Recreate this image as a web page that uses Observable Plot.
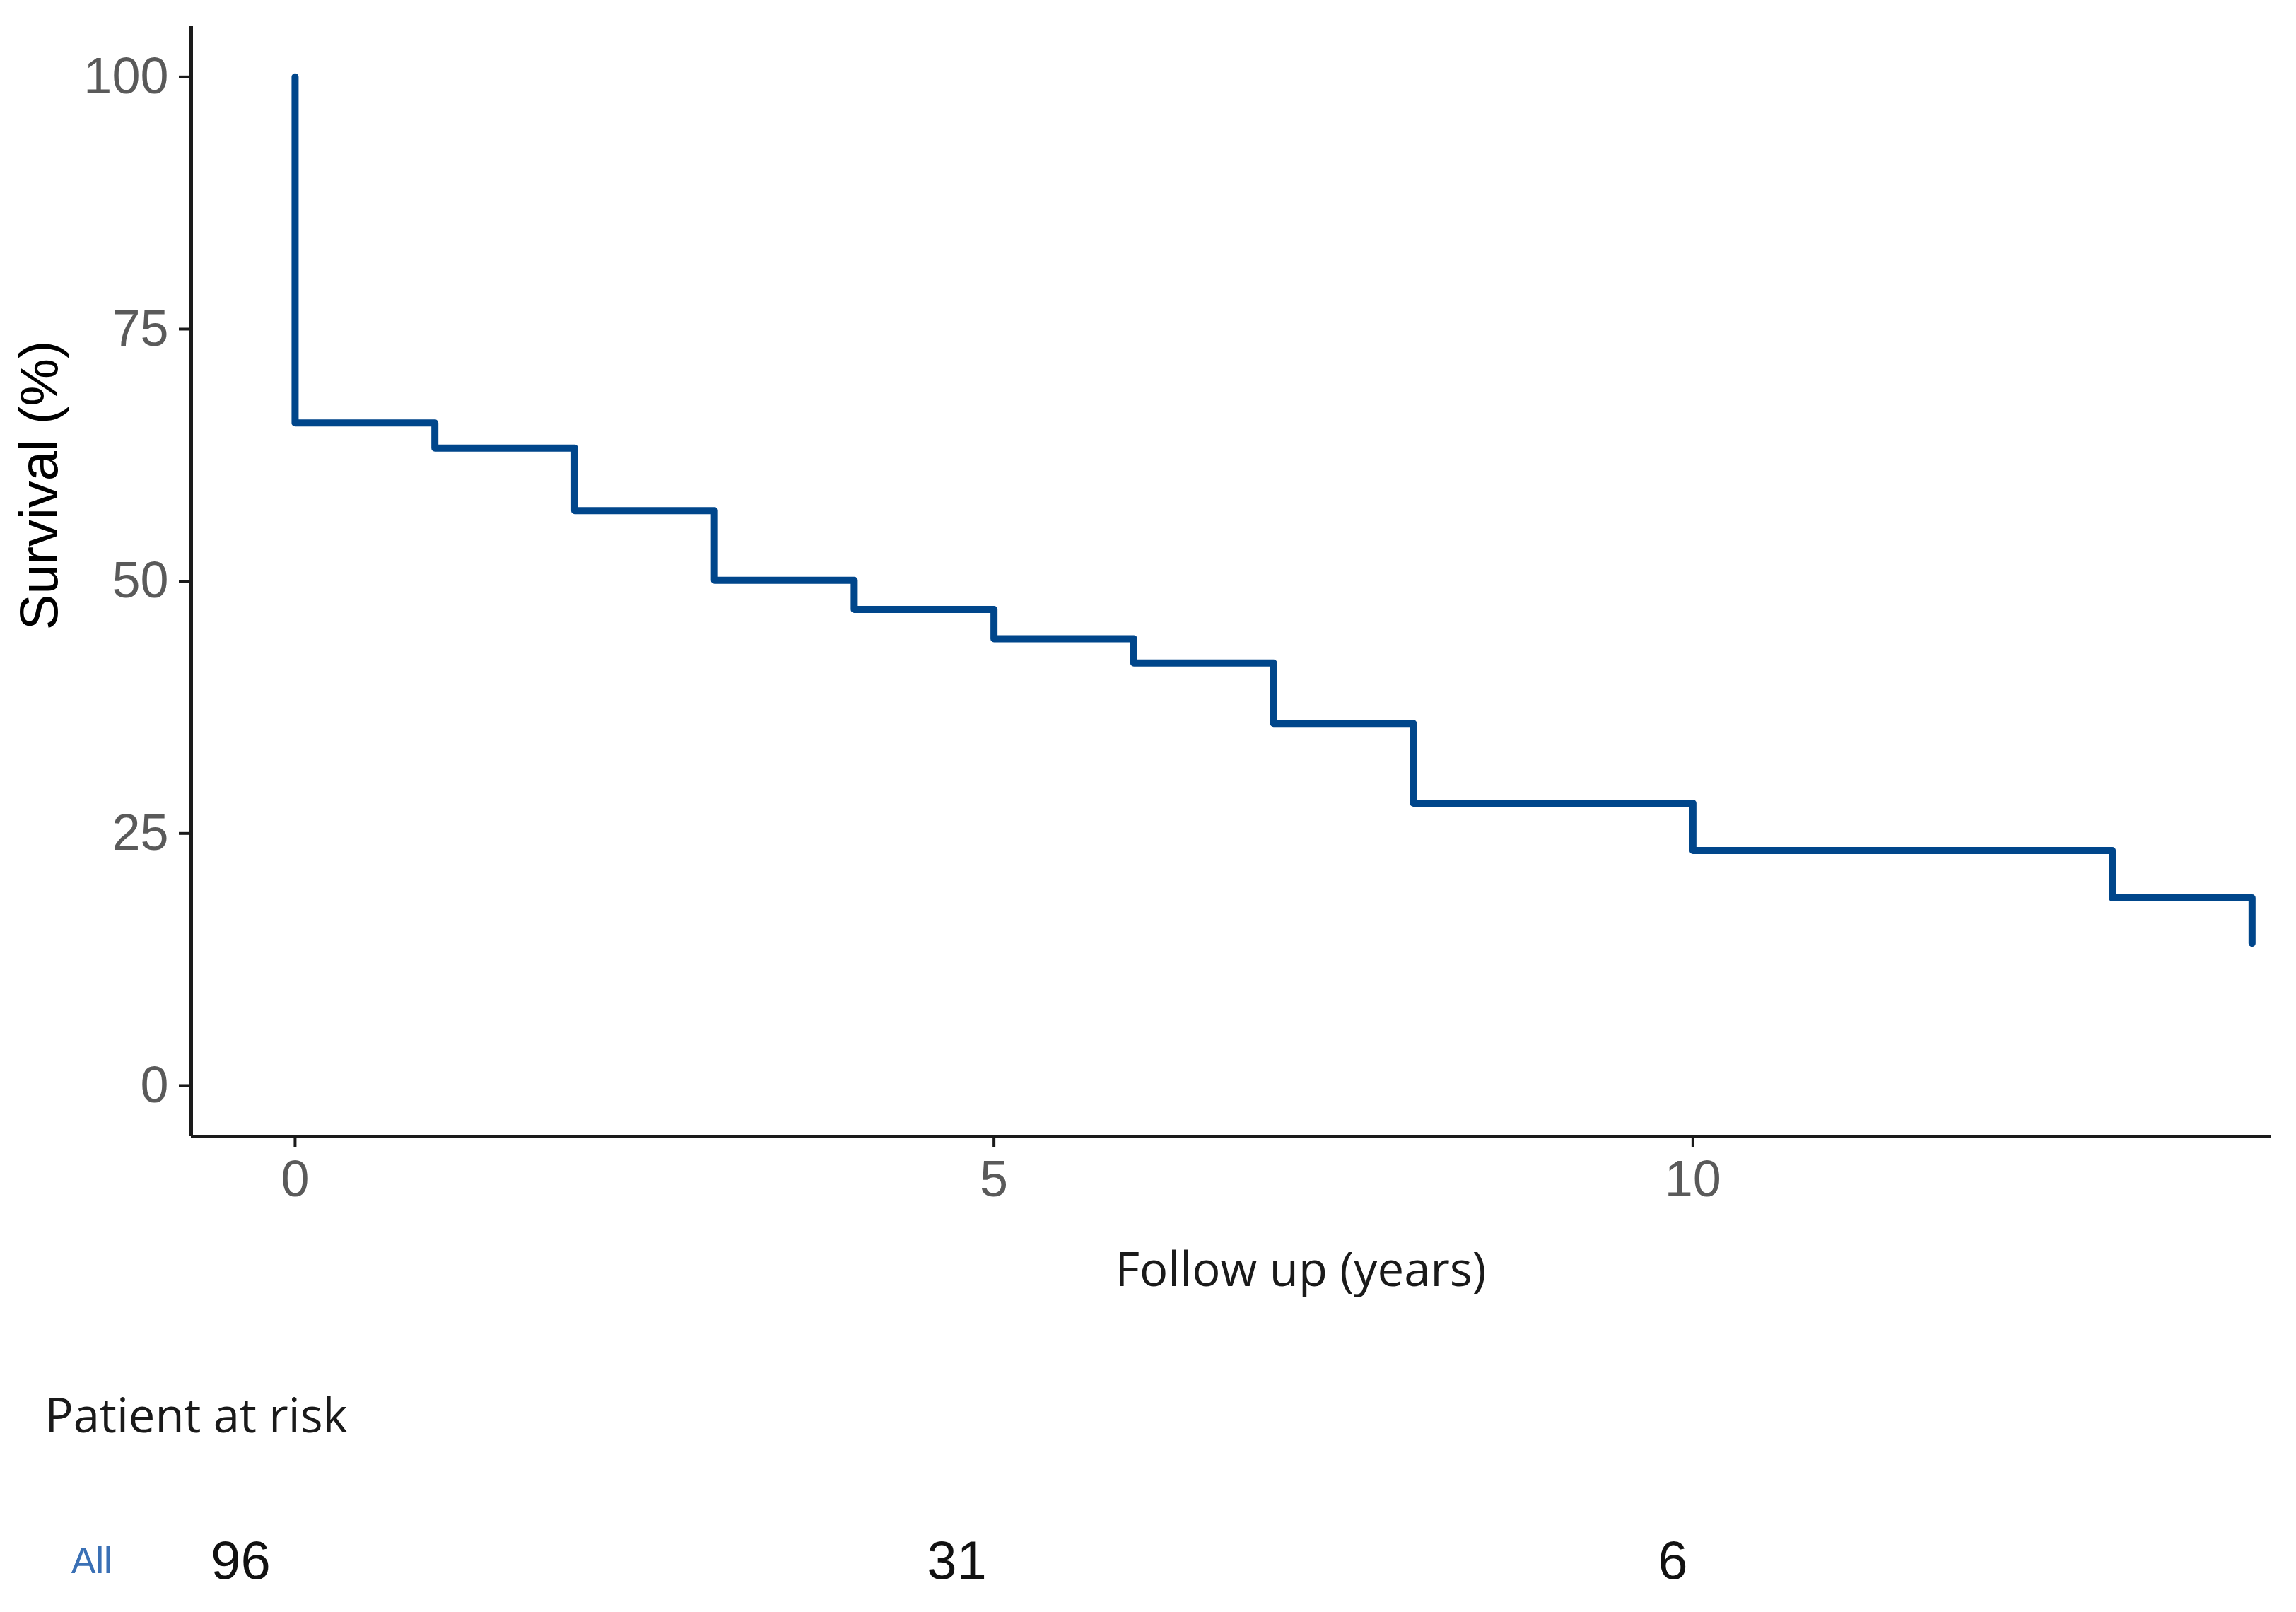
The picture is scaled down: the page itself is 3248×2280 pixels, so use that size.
<!DOCTYPE html>
<html>
<head>
<meta charset="utf-8">
<script src="https://cdn.jsdelivr.net/npm/d3@7"></script>
<script src="https://cdn.jsdelivr.net/npm/@observablehq/plot@0.6"></script>
<style>
  html, body { margin: 0; padding: 0; background: #ffffff; }
  #chart svg { display: block; }
</style>
</head>
<body>
<div id="chart"></div>
<script>
// Kaplan–Meier step points (years, survival %)
const times    = [0, 0, 1, 2, 3, 4, 5, 6, 7, 8, 10, 13, 14];
const survival = [100, 65.7, 63.2, 57.0, 50.1, 47.2, 44.3, 41.9, 35.9, 28.0, 23.3, 18.6, 14.1];

const xTicks = [0, 5, 10];
const yTicks = [0, 25, 50, 75, 100];
const xDomain = [-0.743, 14.14];
const yDomain = [-5.05, 105];

// Patients at risk table
const riskGroup  = "All";
const riskTimes  = [0, 5, 10];
const riskCounts = [96, 31, 6];

const xTitle = "Follow up (years)";
const yTitle = "Survival (%)";
const riskTitle = "Patient at risk";

const curve = times.map((t, i) => ({time: t, surv: survival[i]}));
const risk = riskTimes.map((t, i) => ({time: t, n: riskCounts[i], group: riskGroup}));

const W = 3248;
const sans = "Liberation Sans, Arial, sans-serif";
const ui = "Open Sans, Noto Sans, sans-serif";

const main = Plot.plot({
  width: W,
  height: 1880,
  marginLeft: 270,
  marginRight: 35,
  marginTop: 37,
  marginBottom: 273,
  style: {fontFamily: sans, background: "#ffffff"},
  x: {domain: xDomain},
  y: {domain: yDomain},
  marks: [
    Plot.ruleX([xDomain[0]], {stroke: "#1a1a1a", strokeWidth: 5}),
    Plot.ruleY([yDomain[0]], {stroke: "#1a1a1a", strokeWidth: 5}),
    Plot.axisY(yTicks, {tickSize: 17, tickPadding: 15, fontSize: 72, fill: "#5a5a5a", stroke: "#1a1a1a", strokeWidth: 4, tickFormat: d => String(d), label: null}),
    Plot.axisX(xTicks, {tickSize: 15, tickPadding: 18, fontSize: 72, fill: "#5a5a5a", stroke: "#1a1a1a", strokeWidth: 4, tickFormat: d => String(d), label: null}),
    Plot.line(curve, {x: "time", y: "surv", curve: "step-after", stroke: "#00468B", strokeWidth: 10}),
    Plot.text([yTitle], {frameAnchor: "left", textAnchor: "middle", lineAnchor: "middle", rotate: -90, dx: -214, dy: -136, fontSize: 76, fill: "#000000", fontFamily: sans}),
    Plot.text([xTitle], {frameAnchor: "bottom", textAnchor: "middle", lineAnchor: "middle", dx: 98, dy: 190, fontSize: 67, fill: "#1a1a1a", fontFamily: ui})
  ]
});

const table = Plot.plot({
  width: W,
  height: 400,
  marginLeft: 340,
  marginRight: 882,
  marginTop: 256,
  marginBottom: 0,
  style: {fontFamily: sans, background: "#ffffff"},
  x: {domain: [riskTimes[0], riskTimes[riskTimes.length - 1]], axis: null},
  y: {domain: [riskGroup]},
  marks: [
    Plot.axisY({tickSize: 0, tickPadding: 182, fontSize: 52, fill: "#3a70b5", label: null}),
    Plot.text(risk, {x: "time", y: "group", text: "n", fontSize: 76, fill: "#111111", fontFamily: sans}),
    Plot.text([riskTitle], {frameAnchor: "top-left", textAnchor: "start", lineAnchor: "middle", dx: -277, dy: -132, fontSize: 67, fill: "#1a1a1a", fontFamily: ui})
  ]
});

const root = document.getElementById("chart");
root.appendChild(main);
root.appendChild(table);
</script>
</body>
</html>
